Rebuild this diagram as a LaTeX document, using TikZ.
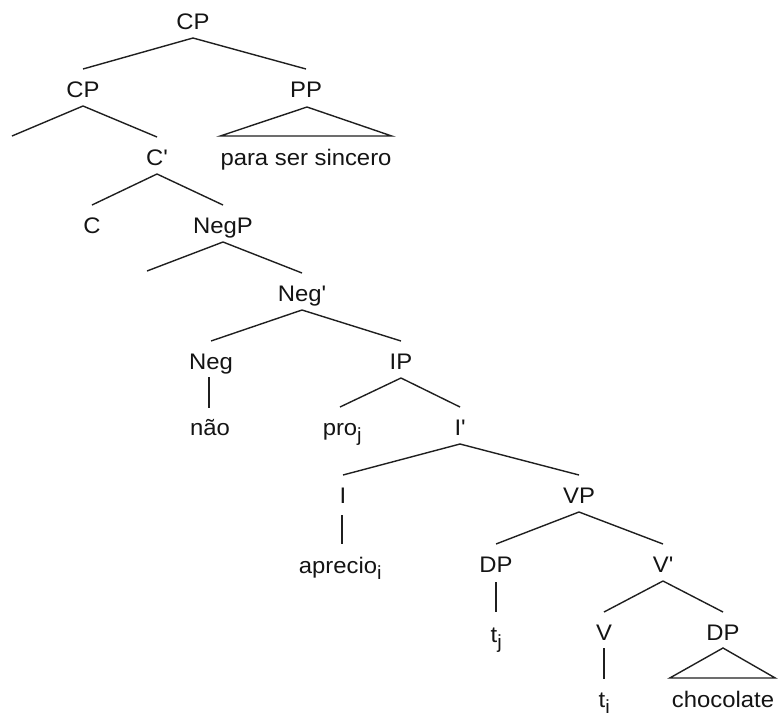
\documentclass[tikz,border=0pt]{standalone}
\usepackage{fontspec}
\setmainfont[FakeStretch=1.06]{Liberation Sans}
\usetikzlibrary{calc}
\newcommand{\subidx}[1]{\rlap{\raisebox{-0.3em}{\fontsize{19}{19}\selectfont #1}}}
\newcommand{\primemark}{\textquotesingle}
\begin{document}
\begin{tikzpicture}[x=1pt,y=-1pt,
  lbl/.style={inner sep=0pt,anchor=base,font=\fontsize{22.5}{24}\selectfont,text=black!92},
  br/.style={line width=1.4pt,black!88}]
\useasboundingbox (0,0) rectangle (779,718);
% nodes
\node[lbl] (cp0) at (193,29) {CP};
\node[lbl] (cp1) at (83,97) {CP};
\node[lbl] (pp) at (306,97) {PP};
\node[lbl] (cbar) at (157,165) {C\primemark};
\node[lbl] (para) at (306,165) {para ser sincero};
\node[lbl] (c) at (92,233) {C};
\node[lbl] (negp) at (223,233) {NegP};
\node[lbl] (negbar) at (302,301) {Neg\primemark};
\node[lbl] (neg) at (211,369) {Neg};
\node[lbl] (ip) at (401,369) {IP};
\node[lbl] (nao) at (210,435) {não};
\node[lbl] (pro) at (340,435) {pro\subidx{j}};
\node[lbl] (ibar) at (460,435) {I\primemark};
\node[lbl] (i) at (343,503) {I};
\node[lbl] (vp) at (579,503) {VP};
\node[lbl] (aprecio) at (338,573) {aprecio\subidx{i}};
\node[lbl] (dp) at (496,572) {DP};
\node[lbl] (vbar) at (663,572) {V\primemark};
\node[lbl] (tj) at (494,642) {t\subidx{j}};
\node[lbl] (v) at (604,640) {V};
\node[lbl] (dp2) at (723,640) {DP};
\node[lbl] (ti) at (602,707) {t\subidx{i}};
\node[lbl] (choc) at (723,707) {chocolate};
\coordinate (free1) at (12,136);
\coordinate (free2) at (147,271);
% branches
\foreach \p/\c in {cp0/cp1,cp0/pp,cp1/cbar,cbar/c,cbar/negp,negp/negbar,negbar/neg,negbar/ip,ip/pro,ip/ibar,ibar/i,ibar/vp,vp/dp,vp/vbar,vbar/v,vbar/dp2}
  \draw[br] ($(\p.base)+(0,9)$) -- ($(\c.base)+(0,-28)$);
\draw[br] ($(cp1.base)+(0,9)$) -- (free1);
\draw[br] ($(negp.base)+(0,9)$) -- (free2);
% unary lines
\draw[br] ($(neg.base)+(-2,8)$) -- ($(neg.base |- nao.base)+(-2,-27)$);
\draw[br] ($(i.base)+(-1,12)$) -- ($(i.base |- aprecio.base)+(-1,-29)$);
\draw[br] ($(dp.base)+(0,10)$) -- ($(dp.base |- tj.base)+(0,-30)$);
\draw[br] ($(v.base)+(0,8)$) -- ($(v.base |- ti.base)+(0,-28)$);
% triangles
\draw[br,line join=miter] ($(pp.base)+(1,10)$) -- ($(para.base west)+(0,-29)$) -- ($(para.base east)+(0,-29)$) -- cycle;
\draw[br,line join=miter] ($(dp2.base)+(0,8)$) -- ($(choc.base west)+(-2,-29)$) -- ($(choc.base east)+(1,-29)$) -- cycle;
\end{tikzpicture}
\end{document}
